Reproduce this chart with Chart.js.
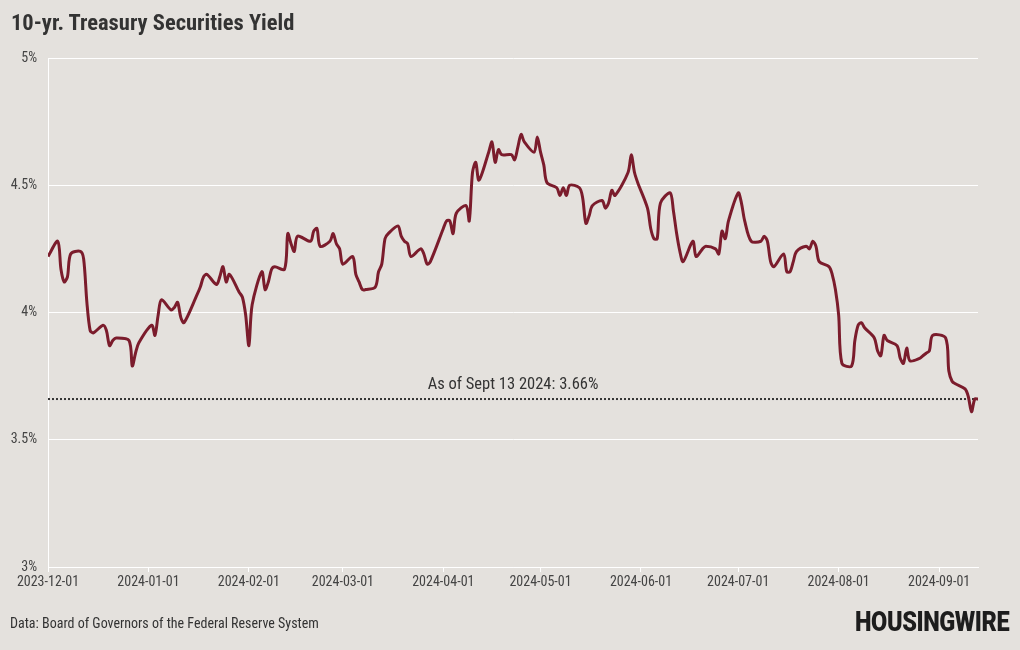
<!DOCTYPE html>
<html>
<head>
<meta charset="utf-8">
<title>10-yr. Treasury Securities Yield</title>
<script src="https://cdn.jsdelivr.net/npm/chart.js@4.4.1/dist/chart.umd.min.js"></script>
<style>
    html, body {
        margin: 0;
        padding: 0;
        background: #e4e1dd;
    }
    #wrap {
        position: relative;
        width: 1020px;
        height: 650px;
        overflow: hidden;
        font-family: "Roboto Condensed", "Liberation Sans Narrow", "DejaVu Sans Condensed", Roboto, sans-serif;
    }
    #title {
        position: absolute;
        left: 11px;
        top: 9px;
        font-size: 22.5px;
        font-weight: bold;
        color: #333;
        white-space: nowrap;
    }
    #source {
        position: absolute;
        left: 10px;
        top: 615px;
        font-size: 14px;
        color: #333;
        white-space: nowrap;
    }
    #logo {
        position: absolute;
        left: 855px;
        top: 605px;
        font-family: Roboto, "DejaVu Sans", sans-serif;
        font-size: 28px;
        font-weight: 900;
        color: #1d1d1d;
        letter-spacing: -0.5px;
        white-space: nowrap;
        transform-origin: left top;
        transform: scaleX(0.84);
    }
    #chart {
        position: absolute;
        left: 0;
        top: 0;
    }
</style>
</head>
<body>
<div id="wrap">
    <canvas id="chart" width="1020" height="650"></canvas>
    <div id="title">10-yr. Treasury Securities Yield</div>
    <div id="source">Data: Board of Governors of the Federal Reserve System</div>
    <div id="logo">HOUSINGWIRE</div>
</div>

<script>
// daily 10-yr yield, business days
const dates = [
    '2023-12-01', '2023-12-04', '2023-12-05', '2023-12-06', '2023-12-07', '2023-12-08',
    '2023-12-11', '2023-12-12', '2023-12-13', '2023-12-14', '2023-12-15',
    '2023-12-18', '2023-12-19', '2023-12-20', '2023-12-21', '2023-12-22',
    '2023-12-26', '2023-12-27', '2023-12-28', '2023-12-29',
    '2024-01-02', '2024-01-03', '2024-01-04', '2024-01-05',
    '2024-01-08', '2024-01-09', '2024-01-10', '2024-01-11', '2024-01-12',
    '2024-01-16', '2024-01-17', '2024-01-18', '2024-01-19',
    '2024-01-22', '2024-01-23', '2024-01-24', '2024-01-25', '2024-01-26',
    '2024-01-29', '2024-01-30', '2024-01-31', '2024-02-01', '2024-02-02',
    '2024-02-05', '2024-02-06', '2024-02-07', '2024-02-08', '2024-02-09',
    '2024-02-12', '2024-02-13', '2024-02-14', '2024-02-15', '2024-02-16',
    '2024-02-20', '2024-02-21', '2024-02-22', '2024-02-23',
    '2024-02-26', '2024-02-27', '2024-02-28', '2024-02-29', '2024-03-01',
    '2024-03-04', '2024-03-05', '2024-03-06', '2024-03-07', '2024-03-08',
    '2024-03-11', '2024-03-12', '2024-03-13', '2024-03-14', '2024-03-15',
    '2024-03-18', '2024-03-19', '2024-03-20', '2024-03-21', '2024-03-22',
    '2024-03-25', '2024-03-26', '2024-03-27', '2024-03-28',
    '2024-04-01', '2024-04-02', '2024-04-03', '2024-04-04', '2024-04-05',
    '2024-04-08', '2024-04-09', '2024-04-10', '2024-04-11', '2024-04-12',
    '2024-04-15', '2024-04-16', '2024-04-17', '2024-04-18', '2024-04-19',
    '2024-04-22', '2024-04-23', '2024-04-24', '2024-04-25', '2024-04-26',
    '2024-04-29', '2024-04-30', '2024-05-01', '2024-05-02', '2024-05-03',
    '2024-05-06', '2024-05-07', '2024-05-08', '2024-05-09', '2024-05-10',
    '2024-05-13', '2024-05-14', '2024-05-15', '2024-05-16', '2024-05-17',
    '2024-05-20', '2024-05-21', '2024-05-22', '2024-05-23', '2024-05-24',
    '2024-05-28', '2024-05-29', '2024-05-30', '2024-05-31',
    '2024-06-03', '2024-06-04', '2024-06-05', '2024-06-06', '2024-06-07',
    '2024-06-10', '2024-06-11', '2024-06-12', '2024-06-13', '2024-06-14',
    '2024-06-17', '2024-06-18', '2024-06-20', '2024-06-21',
    '2024-06-24', '2024-06-25', '2024-06-26', '2024-06-27', '2024-06-28',
    '2024-07-01', '2024-07-02', '2024-07-03', '2024-07-05',
    '2024-07-08', '2024-07-09', '2024-07-10', '2024-07-11', '2024-07-12',
    '2024-07-15', '2024-07-16', '2024-07-17', '2024-07-18', '2024-07-19',
    '2024-07-22', '2024-07-23', '2024-07-24', '2024-07-25', '2024-07-26',
    '2024-07-29', '2024-07-30', '2024-07-31', '2024-08-01', '2024-08-02',
    '2024-08-05', '2024-08-06', '2024-08-07', '2024-08-08', '2024-08-09',
    '2024-08-12', '2024-08-13', '2024-08-14', '2024-08-15', '2024-08-16',
    '2024-08-19', '2024-08-20', '2024-08-21', '2024-08-22', '2024-08-23',
    '2024-08-26', '2024-08-27', '2024-08-28', '2024-08-29', '2024-08-30',
    '2024-09-03', '2024-09-04', '2024-09-05', '2024-09-06',
    '2024-09-09', '2024-09-10', '2024-09-11', '2024-09-12', '2024-09-13'
];

const yields = [
    4.22, 4.28, 4.17, 4.12, 4.14, 4.23,
    4.24, 4.21, 4.04, 3.93, 3.92,
    3.95, 3.93, 3.87, 3.89, 3.90,
    3.89, 3.79, 3.84, 3.88,
    3.95, 3.91, 3.99, 4.05,
    4.01, 4.02, 4.04, 3.98, 3.96,
    4.07, 4.10, 4.14, 4.15,
    4.11, 4.14, 4.18, 4.12, 4.15,
    4.08, 4.06, 3.99, 3.87, 4.03,
    4.16, 4.09, 4.12, 4.17, 4.18,
    4.17, 4.31, 4.27, 4.24, 4.30,
    4.28, 4.32, 4.33, 4.26,
    4.28, 4.31, 4.27, 4.25, 4.19,
    4.22, 4.15, 4.12, 4.09, 4.09,
    4.10, 4.16, 4.19, 4.29, 4.31,
    4.34, 4.30, 4.28, 4.27, 4.22,
    4.25, 4.23, 4.19, 4.20,
    4.33, 4.36, 4.36, 4.31, 4.39,
    4.42, 4.36, 4.55, 4.59, 4.52,
    4.63, 4.67, 4.59, 4.64, 4.62,
    4.62, 4.60, 4.65, 4.70, 4.67,
    4.63, 4.69, 4.63, 4.58, 4.51,
    4.49, 4.46, 4.49, 4.46, 4.50,
    4.49, 4.45, 4.35, 4.38, 4.42,
    4.44, 4.41, 4.43, 4.48, 4.46,
    4.55, 4.62, 4.55, 4.51,
    4.41, 4.33, 4.29, 4.29, 4.43,
    4.47, 4.40, 4.31, 4.24, 4.20,
    4.28, 4.22, 4.25, 4.26,
    4.25, 4.23, 4.32, 4.29, 4.36,
    4.47, 4.43, 4.36, 4.28,
    4.28, 4.30, 4.28, 4.20, 4.18,
    4.23, 4.16, 4.16, 4.20, 4.24,
    4.26, 4.25, 4.28, 4.26, 4.20,
    4.18, 4.15, 4.09, 3.99, 3.80,
    3.79, 3.89, 3.95, 3.96, 3.94,
    3.90, 3.85, 3.83, 3.91, 3.89,
    3.87, 3.82, 3.80, 3.86, 3.81,
    3.82, 3.83, 3.84, 3.85, 3.91,
    3.90, 3.77, 3.73, 3.72,
    3.70, 3.67, 3.61, 3.66, 3.66
];

const tickDates = ['2023-12-01', '2024-01-01', '2024-02-01', '2024-03-01', '2024-04-01',
    '2024-05-01', '2024-06-01', '2024-07-01', '2024-08-01', '2024-09-01'];
const yTicks = [3, 3.5, 4, 4.5, 5];

const latestValue = 3.66;
const latestLabel = 'As of Sept 13 2024: 3.66%';

const FONT = '"Roboto Condensed", "Liberation Sans Narrow", "DejaVu Sans Condensed", Roboto, sans-serif';
const LINE_COLOR = '#7b1c2c';

function dayIndex(str) {
    const [y, m, d] = str.split('-').map(Number);
    const start = Date.UTC(2023, 11, 1);
    return Math.round((Date.UTC(y, m - 1, d) - start) / 86400000);
}

const points = dates.map((d, i) => ({ x: dayIndex(d), y: yields[i] }));
const lastDay = dayIndex(dates[dates.length - 1]);

// text over the dotted reference line
const latestLabelPlugin = {
    id: 'latestLabel',
    afterDatasetsDraw(chart) {
        const { ctx, chartArea, scales } = chart;
        const y = scales.y.getPixelForValue(latestValue);
        ctx.save();
        ctx.font = '16.5px ' + FONT;
        ctx.fillStyle = '#333';
        ctx.textAlign = 'center';
        ctx.textBaseline = 'bottom';
        ctx.fillText(latestLabel, (chartArea.left + chartArea.right) / 2, y - 6);
        ctx.restore();
    }
};

Chart.defaults.font.family = FONT;

new Chart(document.getElementById('chart'), {
    type: 'line',
    data: {
        datasets: [
            {
                data: points,
                borderColor: LINE_COLOR,
                borderWidth: 3,
                pointRadius: 0,
                tension: 0.3,
                order: 0
            },
            {
                data: [{ x: 0, y: latestValue }, { x: lastDay, y: latestValue }],
                borderColor: '#333',
                borderWidth: 2,
                borderDash: [2, 2],
                pointRadius: 0,
                tension: 0,
                order: 1
            }
        ]
    },
    options: {
        responsive: false,
        animation: false,
        layout: {
            padding: { top: 58, right: 42, left: 0, bottom: 0 }
        },
        plugins: {
            legend: { display: false },
            tooltip: { enabled: false }
        },
        scales: {
            x: {
                type: 'linear',
                min: 0,
                max: lastDay,
                afterBuildTicks: (scale) => {
                    scale.ticks = tickDates.map(d => ({ value: dayIndex(d) }));
                },
                afterFit: (scale) => { scale.height = 83; },
                grid: {
                    drawOnChartArea: false,
                    drawTicks: true,
                    tickLength: 5,
                    color: '#ffffff'
                },
                border: { display: true, color: '#ffffff' },
                ticks: {
                    autoSkip: false,
                    maxRotation: 0,
                    padding: 2,
                    color: '#444',
                    font: { size: 14 },
                    callback: (value, index) => tickDates[index]
                }
            },
            y: {
                min: 3,
                max: 5,
                afterBuildTicks: (scale) => {
                    scale.ticks = yTicks.map(v => ({ value: v }));
                },
                afterFit: (scale) => { scale.width = 48; },
                grid: {
                    color: '#ffffff',
                    drawTicks: false
                },
                border: { display: true, color: '#ffffff' },
                ticks: {
                    padding: 11,
                    color: '#444',
                    font: { size: 14 },
                    callback: (value) => value + '%'
                }
            }
        }
    },
    plugins: [latestLabelPlugin]
});
</script>
</body>
</html>
